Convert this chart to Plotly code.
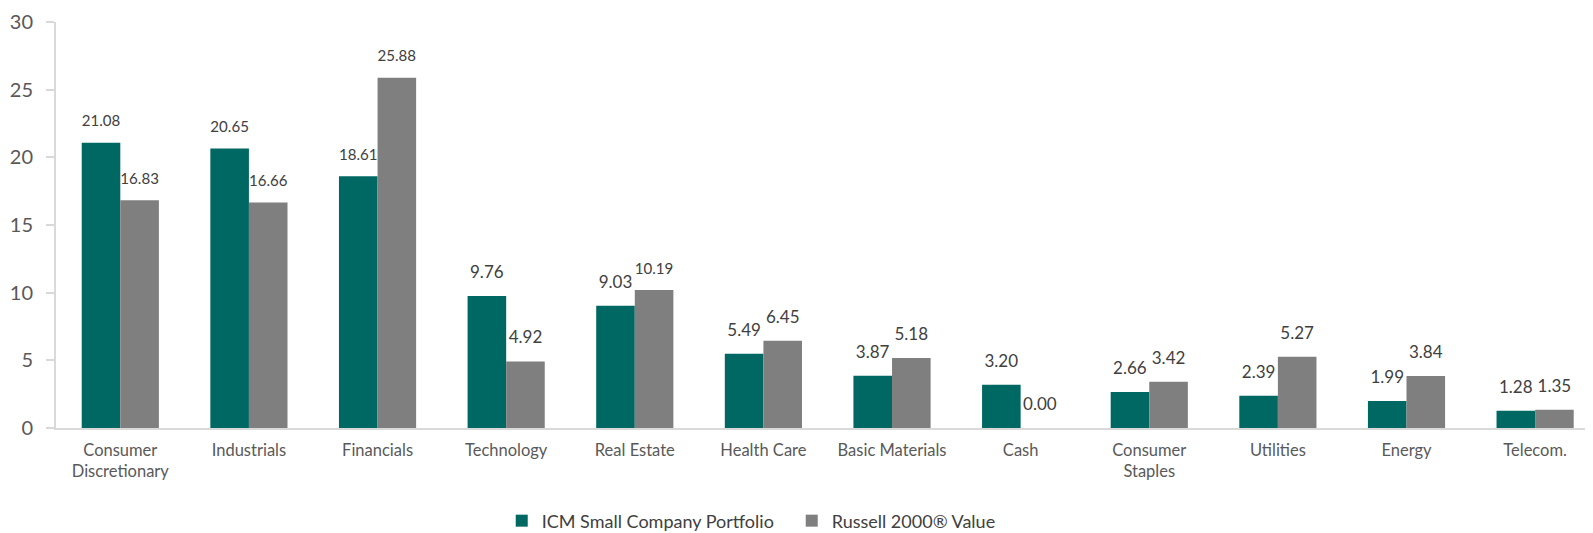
import plotly.graph_objects as go

categories = ["Consumer<br>Discretionary", "Industrials", "Financials", "Technology", "Real Estate",
              "Health Care", "Basic Materials", "Cash", "Consumer<br>Staples", "Utilities", "Energy", "Telecom."]
icm = [21.08, 20.65, 18.61, 9.76, 9.03, 5.49, 3.87, 3.20, 2.66, 2.39, 1.99, 1.28]
russell = [16.83, 16.66, 25.88, 4.92, 10.19, 6.45, 5.18, 0.00, 3.42, 5.27, 3.84, 1.35]
y_ticks = [0, 5, 10, 15, 20, 25, 30]

TEAL = "#006862"
GRAY = "#7f7f7f"
FONT = "Lato"


def labels(vals):
    return [f"<span style='font-size:17px'>{v:.2f}</span><br> " for v in vals]


fig = go.Figure()
fig.add_trace(go.Bar(name="ICM Small Company Portfolio", x=categories, y=icm,
                     marker=dict(color=TEAL, line=dict(width=0)),
                     text=labels(icm), textposition="outside",
                     textfont=dict(size=10, color="#404040", family=FONT), cliponaxis=False))
fig.add_trace(go.Bar(name="Russell 2000® Value", x=categories, y=russell,
                     marker=dict(color=GRAY, line=dict(width=0)),
                     text=labels(russell), textposition="outside",
                     textfont=dict(size=10, color="#404040", family=FONT), cliponaxis=False))

# the page shows the figure offset by the body's 8px margin
fig.update_layout(
    width=1585, height=525,
    margin=dict(l=48, r=0, t=14, b=105, autoexpand=False),
    paper_bgcolor="white", plot_bgcolor="white",
    barmode="group", bargap=0.4, bargroupgap=0,
    font=dict(family=FONT, color="#595959"),
    uniformtext=dict(mode=False),
    legend=dict(orientation="h", x=0.29, xanchor="left", y=-0.229, yanchor="middle",
                font=dict(size=18, color="#404040", family=FONT), itemwidth=30,
                entrywidth=245, entrywidthmode="pixels", traceorder="normal"),
    xaxis=dict(range=[-0.5, 11.45], showline=True, linecolor="#d9d9d9", linewidth=2,
               ticks="", showgrid=False, tickfont=dict(size=16.5, color="#595959"),
               ticklabelstandoff=6, automargin=False),
    yaxis=dict(range=[0, 30], tickvals=y_ticks, showline=True, linecolor="#d9d9d9", linewidth=2,
               ticks="outside", ticklen=8, tickcolor="#d9d9d9", tickwidth=2,
               showgrid=False, zeroline=False, tickfont=dict(size=20, color="#595959"),
               ticklabelstandoff=9, automargin=False),
)
fig.write_html("out.html")
